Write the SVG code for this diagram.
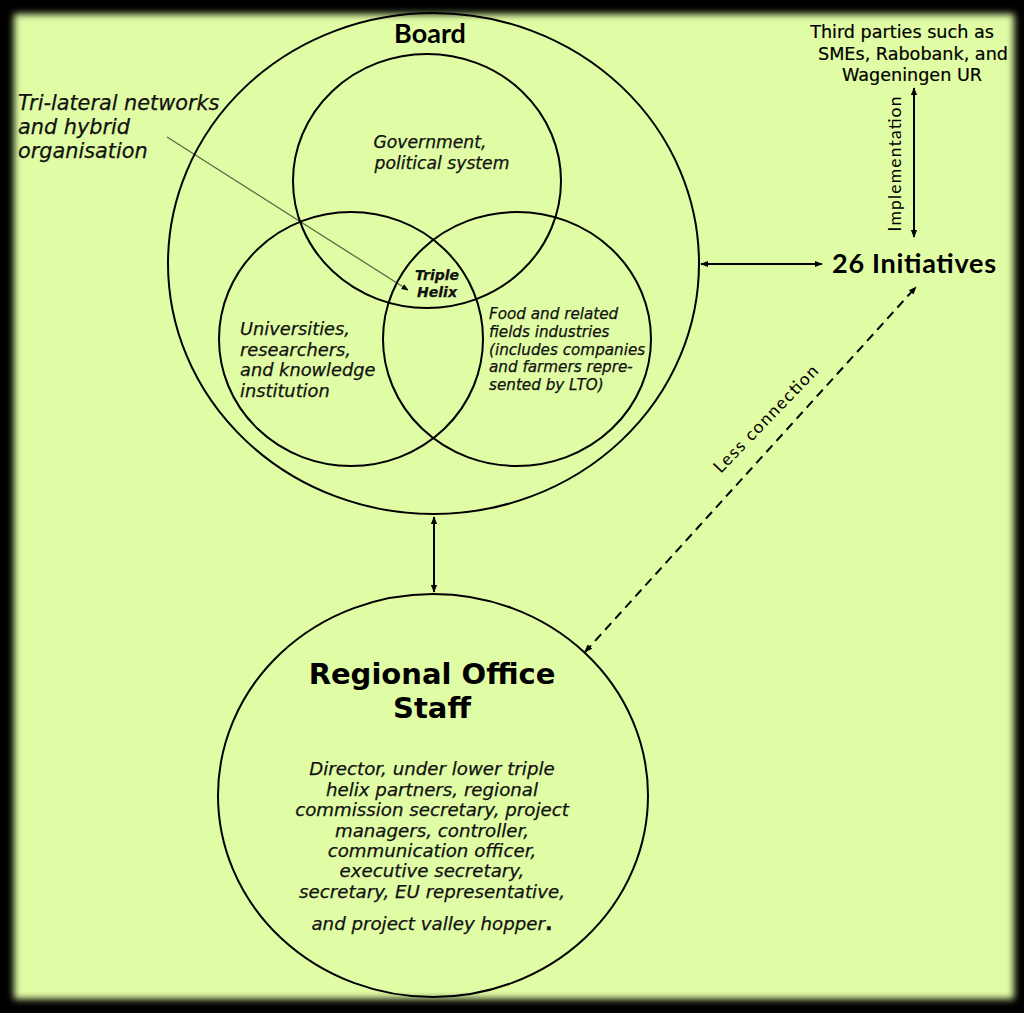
<svg xmlns="http://www.w3.org/2000/svg" width="1024" height="1013" viewBox="0 0 1024 1013">
<defs>
<filter id="soft" x="-5%" y="-5%" width="110%" height="110%"><feGaussianBlur stdDeviation="3.5"/></filter>
<marker id="ah" viewBox="0 0 10 10" refX="9" refY="5" markerWidth="8" markerHeight="8" markerUnits="userSpaceOnUse" orient="auto-start-reverse"><path d="M0,1 L10,5 L0,9 z" fill="#000"/></marker>
<marker id="ahs" viewBox="0 0 10 10" refX="9" refY="5" markerWidth="7" markerHeight="7" markerUnits="userSpaceOnUse" orient="auto"><path d="M0,1 L10,5 L0,9 z" fill="#000"/></marker>
<style>
.ring{fill:none;stroke:#000;stroke-width:2}
.it{font-family:"DejaVu Sans",Verdana,sans-serif;font-style:italic;fill:#111;stroke:#111;stroke-width:0.25}
.bd{font-family:"DejaVu Sans",Verdana,sans-serif;font-weight:bold;fill:#000}
.cal{font-family:Lato,"Liberation Sans",sans-serif;fill:#000}
.conn{stroke:#000;stroke-width:2;fill:none}
</style>
</defs>
<rect x="0" y="0" width="1024" height="1013" fill="#000"/>
<rect x="14" y="14" width="1000" height="985" fill="#e0fca4" filter="url(#soft)"/>

<g id="connectors">
<line class="conn" x1="434" y1="517" x2="434" y2="592" marker-start="url(#ah)" marker-end="url(#ah)"/>
<line class="conn" x1="701" y1="264" x2="822" y2="264" marker-start="url(#ah)" marker-end="url(#ah)"/>
<line class="conn" x1="914" y1="88" x2="914" y2="237" marker-start="url(#ah)" marker-end="url(#ah)"/>
<line class="conn" x1="585" y1="652" x2="916" y2="287" stroke-width="2.5" stroke-dasharray="9 6" marker-start="url(#ah)" marker-end="url(#ah)"/>
<line x1="167" y1="137" x2="408" y2="290" stroke="#5d6b45" stroke-width="1.3" marker-end="url(#ahs)"/>
<text class="cal" font-size="17.5" transform="translate(770,423) rotate(-46)" text-anchor="middle" textLength="142">Less connection</text>
<text class="cal" font-size="17.5" transform="translate(901,164) rotate(-90)" text-anchor="middle" textLength="135">Implementation</text>
</g>

<g id="board">
<ellipse class="ring" cx="433.5" cy="263.5" rx="265.5" ry="250.5"/>
<text class="cal" font-weight="bold" font-size="27" x="430" y="43" text-anchor="middle">Board</text>
</g>

<g id="government">
<ellipse class="ring" cx="427" cy="181" rx="134" ry="127"/>
<text class="it" font-size="17.2" x="430" y="148" text-anchor="middle">Government,</text>
<text class="it" font-size="17.2" x="442" y="169" text-anchor="middle">political system</text>
</g>

<g id="universities">
<ellipse class="ring" cx="351" cy="339" rx="132" ry="127"/>
<text class="it" font-size="17.8"><tspan x="240" y="335">Universities,</tspan><tspan x="240" y="356">researchers,</tspan><tspan x="240" y="376">and knowledge</tspan><tspan x="240" y="397">institution</tspan></text>
</g>

<g id="food">
<ellipse class="ring" cx="517" cy="339" rx="134" ry="127"/>
<text class="it" font-size="15.2"><tspan x="489" y="319">Food and related</tspan><tspan x="489" y="337">fields industries</tspan><tspan x="489" y="355">(includes companies</tspan><tspan x="489" y="372">and farmers repre-</tspan><tspan x="489" y="390">sented by LTO)</tspan></text>
</g>

<g id="triple-helix">
<text class="it" font-weight="bold" font-size="14" text-anchor="middle"><tspan x="437" y="280">Triple</tspan><tspan x="437" y="297">Helix</tspan></text>
</g>

<g id="trilateral">
<text class="it" font-size="20.8"><tspan x="18" y="110">Tri-lateral networks</tspan><tspan x="18" y="134">and hybrid</tspan><tspan x="18" y="158">organisation</tspan></text>
</g>

<g id="third-parties">
<text font-family="'DejaVu Sans',Verdana,sans-serif" font-size="17.6" fill="#000" stroke="#000" stroke-width="0.2" text-anchor="middle"><tspan x="902" y="38">Third parties such as</tspan><tspan x="913" y="60">SMEs, Rabobank, and</tspan><tspan x="912" y="81">Wageningen UR</tspan></text>
</g>

<g id="initiatives">
<text class="cal" font-weight="bold" font-size="27" x="832" y="273" textLength="164">26 Initiatives</text>
</g>

<g id="regional-office">
<ellipse class="ring" cx="433" cy="795.5" rx="215" ry="201.5"/>
<text class="bd" font-size="29" text-anchor="middle"><tspan x="432" y="684">Regional Office</tspan><tspan x="432" y="718">Staff</tspan></text>
<text class="it" font-size="18.2" text-anchor="middle"><tspan x="432" y="775">Director, under lower triple</tspan><tspan x="432" y="796">helix partners, regional</tspan><tspan x="432" y="816">commission secretary, project</tspan><tspan x="432" y="837">managers, controller,</tspan><tspan x="432" y="857">communication officer,</tspan><tspan x="432" y="877">executive secretary,</tspan><tspan x="432" y="898">secretary, EU representative,</tspan><tspan x="432" y="930">and project valley hopper<tspan font-weight="bold" font-style="normal" font-size="20">.</tspan></tspan></text>
</g>
</svg>
